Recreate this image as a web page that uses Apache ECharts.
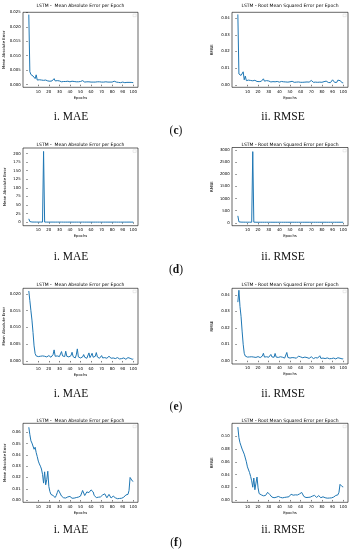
<!DOCTYPE html>
<html>
<head>
<meta charset="utf-8">
<script src="https://cdn.jsdelivr.net/npm/echarts@6/dist/echarts.min.js"></script>
<style>html,body{margin:0;padding:0;background:#fff}#c{width:353px;height:550px}</style>
</head>
<body>
<div id="c"></div>
<script>
const epochs = Array.from({length: 100}, (_, i) => i + 1);
const xTicks = [10, 20, 30, 40, 50, 60, 70, 80, 90, 100];

const cMae = [0.0242,0.0045,0.0035,0.0033,0.0030,0.0036,0.0021,0.0034,0.0016,0.0019,
 0.0017,0.0018,0.0016,0.0017,0.0015,0.0019,0.0016,0.0015,0.0013,0.0016,
 0.0012,0.0014,0.0013,0.0015,0.0021,0.0013,0.0012,0.0014,0.0011,0.0013,
 0.0012,0.0010,0.0012,0.0011,0.0013,0.0011,0.0010,0.0012,0.0011,0.0010,
 0.0011,0.0012,0.0010,0.0011,0.0012,0.0010,0.0011,0.0010,0.0009,0.0011,
 0.0010,0.0014,0.0010,0.0009,0.0011,0.0010,0.0008,0.0010,0.0011,0.0009,
 0.0010,0.0009,0.0013,0.0009,0.0008,0.0010,0.0009,0.0010,0.0008,0.0009,
 0.0011,0.0009,0.0008,0.0010,0.0013,0.0009,0.0008,0.0009,0.0007,0.0009,
 0.0010,0.0012,0.0008,0.0009,0.0010,0.0008,0.0009,0.0007,0.0008,0.0009,
 0.0008,0.0007,0.0009,0.0008,0.0013,0.0008,0.0011,0.0008,0.0007,0.0007];
const cRmse = [0.0422,0.0065,0.0055,0.0056,0.0048,0.0078,0.0030,0.0052,0.0025,0.0030,
 0.0028,0.0032,0.0026,0.0029,0.0024,0.0033,0.0027,0.0022,0.0020,0.0027,
 0.0019,0.0023,0.0021,0.0024,0.0036,0.0022,0.0020,0.0025,0.0018,0.0023,
 0.0021,0.0017,0.0020,0.0019,0.0022,0.0018,0.0017,0.0020,0.0018,0.0016,
 0.0019,0.0020,0.0017,0.0018,0.0024,0.0017,0.0019,0.0016,0.0015,0.0018,
 0.0017,0.0021,0.0016,0.0015,0.0018,0.0016,0.0014,0.0017,0.0022,0.0015,
 0.0017,0.0015,0.0020,0.0016,0.0014,0.0017,0.0015,0.0016,0.0014,0.0026,
 0.0018,0.0015,0.0023,0.0016,0.0020,0.0015,0.0014,0.0016,0.0013,0.0015,
 0.0017,0.0019,0.0014,0.0022,0.0016,0.0014,0.0015,0.0013,0.0016,0.0030,
 0.0018,0.0014,0.0016,0.0015,0.0028,0.0017,0.0025,0.0015,0.0013,0.0012];
const dMae = [10,2.0,0.9,0.7,0.6,0.6,0.5,0.6,0.5,0.5,
 0.5,0.6,0.5,0.5,206,0.6,0.5,0.5,0.5,0.4,
 0.5,0.5,0.4,0.5,0.5,0.4,0.5,0.5,0.4,0.5,
 0.4,0.5,0.4,0.4,0.5,0.4,0.5,0.4,0.4,0.5,
 0.4,0.4,0.5,0.4,0.4,0.4,0.5,0.4,0.4,0.4,
 0.4,0.5,0.4,0.4,0.4,0.4,0.5,0.4,0.4,0.4,
 0.4,0.4,0.5,0.4,0.4,0.4,0.4,0.4,0.5,0.4,
 0.4,0.4,0.4,0.4,0.5,0.4,0.4,0.4,0.4,0.4,
 0.4,0.5,0.4,0.4,0.4,0.4,0.4,0.4,0.5,0.4,
 0.4,0.4,0.4,0.4,0.4,0.5,0.4,0.4,0.4,0.4];
const dRmse = [290,45,35,32,30,31,29,30,28,29,
 28,29,28,28,2930,31,29,28,28,27,
 28,28,27,28,28,27,28,28,27,28,
 27,28,27,27,28,27,28,27,27,28,
 27,27,28,27,27,27,28,27,27,27,
 27,28,27,27,27,27,28,27,27,27,
 27,27,28,27,27,27,27,27,28,27,
 27,27,27,27,28,27,27,27,27,27,
 27,28,27,27,27,27,27,27,28,27,
 27,27,27,27,27,28,27,27,27,27];
const eMae = [0.0209,0.0180,0.0150,0.0122,0.0085,0.0045,0.0022,0.0015,0.0016,0.0013,
 0.0017,0.0014,0.0018,0.0015,0.0016,0.0014,0.0015,0.0012,0.0014,0.0016,
 0.0013,0.0011,0.0015,0.0019,0.0033,0.0014,0.0012,0.0015,0.0011,0.0013,
 0.0016,0.0028,0.0015,0.0012,0.0013,0.0029,0.0014,0.0010,0.0012,0.0011,
 0.0016,0.0026,0.0013,0.0011,0.0009,0.0018,0.0036,0.0012,0.0010,0.0009,
 0.0008,0.0012,0.0019,0.0011,0.0009,0.0008,0.0013,0.0024,0.0010,0.0016,
 0.0023,0.0011,0.0009,0.0014,0.0025,0.0012,0.0009,0.0008,0.0011,0.0016,
 0.0009,0.0007,0.0010,0.0012,0.0008,0.0009,0.0014,0.0019,0.0008,0.0006,
 0.0009,0.0012,0.0007,0.0006,0.0010,0.0008,0.0006,0.0011,0.0007,0.0006,
 0.0009,0.0007,0.0005,0.0008,0.0010,0.0006,0.0008,0.0007,0.0005,0.0006];
const eRmse = [0.0356,0.0428,0.0330,0.0270,0.0180,0.0100,0.0045,0.0028,0.0025,0.0022,
 0.0026,0.0023,0.0027,0.0024,0.0025,0.0022,0.0024,0.0020,0.0022,0.0025,
 0.0021,0.0019,0.0023,0.0028,0.0045,0.0022,0.0020,0.0024,0.0019,0.0021,
 0.0025,0.0038,0.0023,0.0020,0.0021,0.0044,0.0022,0.0018,0.0020,0.0019,
 0.0024,0.0030,0.0021,0.0019,0.0016,0.0027,0.0050,0.0020,0.0017,0.0016,
 0.0015,0.0019,0.0024,0.0018,0.0016,0.0015,0.0020,0.0028,0.0017,0.0023,
 0.0030,0.0018,0.0016,0.0022,0.0034,0.0019,0.0016,0.0014,0.0018,0.0024,
 0.0016,0.0013,0.0017,0.0019,0.0014,0.0016,0.0022,0.0030,0.0014,0.0012,
 0.0016,0.0020,0.0013,0.0012,0.0017,0.0014,0.0012,0.0018,0.0013,0.0012,
 0.0016,0.0013,0.0011,0.0015,0.0018,0.0012,0.0015,0.0013,0.0011,0.0012];
const fMae = [0.0645,0.0580,0.0525,0.0505,0.0490,0.0450,0.0468,0.0420,0.0385,0.0345,
 0.0320,0.0300,0.0275,0.0228,0.0150,0.0250,0.0135,0.0180,0.0255,0.0120,
 0.0075,0.0050,0.0048,0.0040,0.0036,0.0022,0.0040,0.0066,0.0090,0.0072,
 0.0058,0.0035,0.0028,0.0020,0.0015,0.0018,0.0022,0.0028,0.0036,0.0032,
 0.0020,0.0016,0.0014,0.0017,0.0020,0.0022,0.0024,0.0026,0.0024,0.0035,
 0.0052,0.0085,0.0062,0.0040,0.0055,0.0072,0.0058,0.0066,0.0075,0.0090,
 0.0088,0.0072,0.0040,0.0028,0.0022,0.0020,0.0025,0.0030,0.0028,0.0035,
 0.0045,0.0052,0.0055,0.0048,0.0020,0.0030,0.0050,0.0038,0.0018,0.0025,
 0.0035,0.0030,0.0020,0.0015,0.0012,0.0015,0.0014,0.0012,0.0016,0.0018,
 0.0025,0.0028,0.0045,0.0040,0.0050,0.0085,0.0200,0.0185,0.0170,0.0165];
const fRmse = [0.1145,0.0980,0.0900,0.0850,0.0800,0.0790,0.0720,0.0660,0.0600,0.0520,
 0.0490,0.0430,0.0370,0.0300,0.0200,0.0345,0.0160,0.0265,0.0360,0.0190,
 0.0100,0.0085,0.0080,0.0075,0.0065,0.0060,0.0070,0.0095,0.0120,0.0105,
 0.0085,0.0060,0.0045,0.0040,0.0035,0.0038,0.0042,0.0048,0.0055,0.0052,
 0.0040,0.0035,0.0033,0.0036,0.0040,0.0042,0.0045,0.0048,0.0050,0.0060,
 0.0090,0.0100,0.0075,0.0065,0.0080,0.0085,0.0078,0.0085,0.0095,0.0110,
 0.0118,0.0095,0.0055,0.0042,0.0038,0.0036,0.0040,0.0045,0.0044,0.0050,
 0.0060,0.0070,0.0072,0.0065,0.0040,0.0048,0.0068,0.0055,0.0035,0.0042,
 0.0050,0.0045,0.0035,0.0030,0.0028,0.0032,0.0030,0.0028,0.0033,0.0036,
 0.0045,0.0050,0.0070,0.0065,0.0080,0.0120,0.0245,0.0225,0.0210,0.0205];

const ticksMae3 = [0, 0.005, 0.010, 0.015, 0.020, 0.025];
const ticksRmse2 = [0, 0.01, 0.02, 0.03, 0.04];
const ticksDMae = [0, 25, 50, 75, 100, 125, 150, 175, 200];
const ticksDRmse = [0, 500, 1000, 1500, 2000, 2500, 3000];
const ticksEMae = [0, 0.005, 0.010, 0.015, 0.020];
const ticksFMae = [0, 0.01, 0.02, 0.03, 0.04, 0.05, 0.06];
const ticksFRmse = [0, 0.02, 0.04, 0.06, 0.08, 0.10];

const titleMae = 'LSTM -  Mean Absolute Error per Epoch';
const titleRmse = 'LSTM - Root Mean Squared Error per Epoch';
const captions = ['c', 'd', 'e', 'f'];

const L = {left: 23, width: 115}, R = {left: 232, width: 116};
const panels = [
  {d: cMae, col: L, top: 12.3, h: 75, min: -0.0009, max: 0.0250, ticks: ticksMae3, dec: 3, mae: true, ty: 5.7},
  {d: cRmse, col: R, top: 12.3, h: 75, min: -0.0015, max: 0.0435, ticks: ticksRmse2, dec: 2, mae: false, ty: 5.7},
  {d: dMae, col: L, top: 148, h: 77.7, min: -10, max: 216, ticks: ticksDMae, dec: 0, mae: true, ty: 144.5},
  {d: dRmse, col: R, top: 147.5, h: 78.2, min: -115, max: 3100, ticks: ticksDRmse, dec: 0, mae: false, ty: 144.5},
  {d: eMae, col: L, top: 288.3, h: 76, min: -0.001, max: 0.0217, ticks: ticksEMae, dec: 3, mae: true, ty: 285},
  {d: eRmse, col: R, top: 288.3, h: 75.7, min: -0.002, max: 0.0440, ticks: ticksRmse2, dec: 2, mae: false, ty: 285},
  {d: fMae, col: L, top: 423.3, h: 79, min: -0.002, max: 0.068, ticks: ticksFMae, dec: 2, mae: true, ty: 420.5},
  {d: fRmse, col: R, top: 423.3, h: 79, min: -0.0037, max: 0.1205, ticks: ticksFRmse, dec: 2, mae: false, ty: 420.5}
];
const capY = [[117, 131], [257, 270], [394, 407], [530, 543]];

const FONT = 'DejaVu Sans';
const grid = [], xAxis = [], yAxis = [], series = [], graphic = [];
panels.forEach((p, i) => {
  grid.push({left: p.col.left, top: p.top, width: p.col.width, height: p.h, show: true,
    borderColor: '#000', borderWidth: 0.6, backgroundColor: 'transparent', containLabel: false});
  xAxis.push({type: 'value', gridIndex: i, min: -4.5, max: 104.5,
    name: 'Epochs', nameLocation: 'middle', nameGap: 8.5,
    nameTextStyle: {fontSize: 3.8, fontFamily: FONT, color: '#000'},
    axisLine: {show: false}, splitLine: {show: false},
    axisTick: {show: true, length: 1.5, inside: false, customValues: xTicks, lineStyle: {color: '#000', width: 0.5}},
    axisLabel: {show: true, customValues: xTicks, margin: 2.2, fontSize: 3.9, fontFamily: FONT, color: '#000',
      formatter: v => String(v)}});
  yAxis.push({type: 'value', gridIndex: i, min: p.min, max: p.max,
    name: p.mae ? 'Mean Absolute Error' : 'RMSE', nameLocation: 'middle', nameGap: p.mae ? 15.5 : 18,
    nameRotate: 90,
    nameTextStyle: {fontSize: 3.8, fontFamily: FONT, color: '#000'},
    axisLine: {show: false}, splitLine: {show: false},
    axisTick: {show: true, length: 1.5, inside: false, customValues: p.ticks, lineStyle: {color: '#000', width: 0.5}},
    axisLabel: {show: true, customValues: p.ticks, margin: 2.2, fontSize: 3.9, fontFamily: FONT, color: '#000',
      formatter: v => Number(v).toFixed(p.dec)}});
  series.push({type: 'line', xAxisIndex: i, yAxisIndex: i, showSymbol: false, symbol: 'none',
    data: epochs.map((e, k) => [e, p.d[k]]),
    lineStyle: {color: '#1f77b4', width: 1.0}, silent: true});
  const cx = p.col.left + p.col.width / 2;
  graphic.push({type: 'text', x: cx, y: p.ty, style: {text: p.mae ? titleMae : titleRmse,
    fontSize: 4.5, fontFamily: FONT, fill: '#000', align: 'center', verticalAlign: 'middle'}});
  graphic.push({type: 'rect', shape: {x: p.col.left + p.col.width - 5, y: p.top + 1.8, width: 3.2, height: 2.6},
    style: {fill: '#fff', stroke: '#d0d0d0', lineWidth: 0.4}});
});
captions.forEach((c, r) => {
  const [y1, y2] = capY[r];
  graphic.push({type: 'text', x: 71, y: y1, style: {text: 'i. MAE', fontSize: 11.5, fontFamily: 'Liberation Serif',
    fill: '#111', align: 'center', verticalAlign: 'middle'}});
  graphic.push({type: 'text', x: 283, y: y1, style: {text: 'ii. RMSE', fontSize: 11.5, fontFamily: 'Liberation Serif',
    fill: '#111', align: 'center', verticalAlign: 'middle'}});
  graphic.push({type: 'text', x: 176, y: y2, style: {text: '({b|' + c + '})', fontSize: 11.5, fontFamily: 'Liberation Serif',
    fill: '#111', align: 'center', verticalAlign: 'middle',
    rich: {b: {fontWeight: 'bold', fontSize: 11.5, fontFamily: 'Liberation Serif', fill: '#111'}}}});
});

const chart = echarts.init(document.getElementById('c'), null, {renderer: 'canvas'});
chart.setOption({animation: false, backgroundColor: '#fff', grid, xAxis, yAxis, series, graphic});
</script>
</body>
</html>
